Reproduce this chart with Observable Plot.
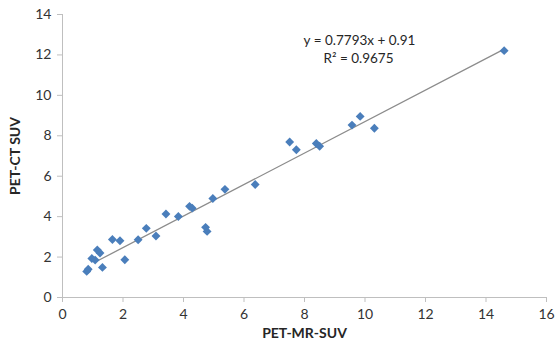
<!DOCTYPE html>
<html>
<head>
<meta charset="utf-8">
<script src="https://cdn.jsdelivr.net/npm/d3@7"></script>
<script src="https://cdn.jsdelivr.net/npm/@observablehq/plot@0.6"></script>
<style>
  html, body { margin: 0; padding: 0; background: #fff; }
  #chart svg { display: block; font-family: Lato, "Open Sans", sans-serif; }
  #chart [aria-label="x-axis tick"], #chart [aria-label="y-axis tick"] { stroke: #bfbfbf; }
</style>
</head>
<body>
<div id="chart"></div>
<script>
// PET-MR SUV (x) vs PET-CT SUV (y)
const petMR = [0.80, 0.85, 0.97, 1.08, 1.15, 1.24, 1.32, 1.65, 1.90, 2.06, 2.50, 2.77, 3.09, 3.42, 3.83, 4.20, 4.29, 4.73, 4.78, 4.97, 5.37, 6.37, 7.51, 7.73, 8.39, 8.50, 9.57, 9.84, 10.31, 14.60];
const petCT = [1.29, 1.40, 1.93, 1.85, 2.35, 2.20, 1.49, 2.87, 2.81, 1.87, 2.86, 3.42, 3.04, 4.13, 4.01, 4.51, 4.42, 3.47, 3.27, 4.90, 5.35, 5.59, 7.69, 7.31, 7.62, 7.48, 8.53, 8.96, 8.37, 12.21];
const slope = 0.7793, intercept = 0.91;
const trendX = [1.1, 14.6];
const equationLines = ["y = 0.7793x + 0.91", "R² = 0.9675"];
const xTicks = [0, 2, 4, 6, 8, 10, 12, 14, 16];
const yTicks = [0, 2, 4, 6, 8, 10, 12, 14];
const xTitle = "PET-MR-SUV";
const yTitle = "PET-CT SUV";

const points = petMR.map((x, i) => ({x, y: petCT[i]}));
const trend = trendX.map(x => ({x, y: slope * x + intercept}));

const chart = Plot.plot({
  width: 558,
  height: 348,
  marginLeft: 62,
  marginRight: 12,
  marginTop: 14,
  marginBottom: 51,
  style: {fontFamily: "Lato, 'Open Sans', sans-serif", background: "#fff"},
  x: {domain: [0, 16]},
  y: {domain: [0, 14]},
  marks: [
    Plot.axisX({ticks: xTicks, tickSize: 5, tickPadding: 7, fontSize: 14, color: "#333", label: null}),
    Plot.axisY({ticks: yTicks, tickSize: 5, tickPadding: 6, fontSize: 14, color: "#333", label: null}),
    Plot.ruleX([0], {stroke: "#bfbfbf"}),
    Plot.ruleY([0], {stroke: "#bfbfbf"}),
    Plot.line(trend, {x: "x", y: "y", stroke: "#8c8c8c", strokeWidth: 1.3}),
    Plot.dot(points, {x: "x", y: "y", symbol: "diamond2", r: 4, fill: "#4a7ebb", stroke: "none"}),
    Plot.text([equationLines[0]], {frameAnchor: "top", dx: 55, dy: 21, fontSize: 13.5, fill: "#262626", text: d => d}),
    Plot.text([equationLines[1]], {frameAnchor: "top", dx: 54, dy: 39, fontSize: 13.5, fill: "#262626", text: d => d}),
    Plot.text([xTitle], {frameAnchor: "bottom", dy: 40, fontSize: 14, fontWeight: "bold", fill: "#262626", text: d => d}),
    Plot.text([yTitle], {frameAnchor: "left", textAnchor: "middle", dx: -47, dy: 0, rotate: -90, fontSize: 14, fontWeight: "bold", fill: "#262626", text: d => d})
  ]
});
document.getElementById("chart").appendChild(chart);
</script>
</body>
</html>
